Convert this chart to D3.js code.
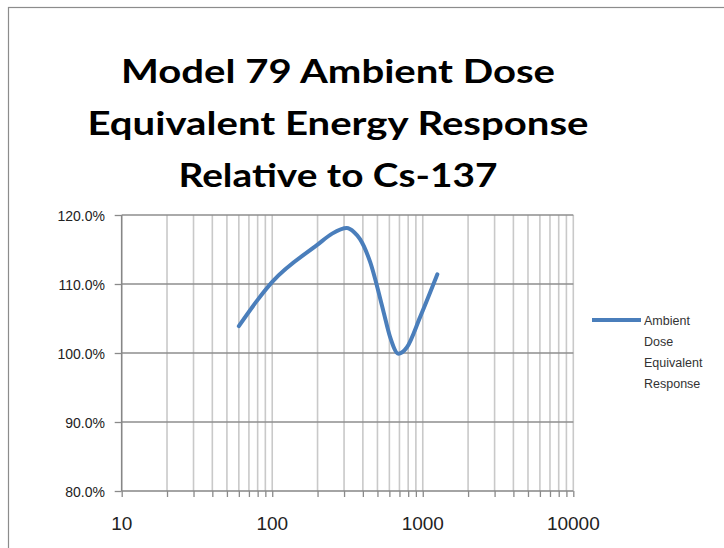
<!DOCTYPE html>
<html>
<head>
<meta charset="utf-8">
<script src="https://cdn.jsdelivr.net/npm/d3@7"></script>
<style>
  html, body { margin: 0; padding: 0; background: #fff; overflow: hidden; }
  svg { display: block; }
</style>
</head>
<body>
<svg id="chart" width="724" height="548"></svg>
<script>
// ---- data ----
const energies = [60, 80, 100, 200, 250, 313, 350, 383, 447, 547, 607, 689, 783, 960, 1250];       // keV
const response = [1.039, 1.077, 1.103, 1.157, 1.173, 1.181, 1.175, 1.165, 1.132, 1.061, 1.023, 0.999, 1.008, 1.052, 1.114];
const xTickValues = [10, 100, 1000, 10000];
const yTickValues = [0.8, 0.9, 1.0, 1.1, 1.2];
const titleLines = ["Model 79 Ambient Dose", "Equivalent Energy Response", "Relative to Cs-137"];
const seriesName = ["Ambient", "Dose", "Equivalent", "Response"];

const svg = d3.select("#chart");

// outer chart frame (extends past the viewport, like the reference)
svg.append("rect").attr("x", 8.5).attr("y", 7.5).attr("width", 760).attr("height", 600)
  .attr("fill", "#fff").attr("stroke", "#8c8c8c").attr("stroke-width", 1.2);

const x = d3.scaleLog().domain([10, 10000]).range([121.7, 573.3]);
const y = d3.scaleLinear().domain([0.8, 1.2]).range([491, 215]);

// minor + major vertical grid positions
const gridX = [];
for (let d = 10; d < 10000; d *= 10) for (let m = 1; m <= 9; m++) gridX.push(d * m);
gridX.push(10000);

const g = svg.append("g");

// vertical gridlines
g.selectAll(".vgrid").data(gridX.filter(v => v > 10)).join("line")
  .attr("x1", d => x(d)).attr("x2", d => x(d))
  .attr("y1", y(1.2)).attr("y2", y(0.8))
  .attr("stroke", "#c9c9c9").attr("stroke-width", 1.6);

// horizontal gridlines
g.selectAll(".hgrid").data(yTickValues.filter(v => v > 0.8)).join("line")
  .attr("x1", x(10)).attr("x2", x(10000))
  .attr("y1", d => y(d)).attr("y2", d => y(d))
  .attr("stroke", "#8e8e8e").attr("stroke-width", 1.4);

// x axis
const xAxis = d3.axisBottom(x).tickValues(gridX).tickSize(6).tickFormat("");
const gx = g.append("g").attr("transform", `translate(0,${y(0.8)})`).call(xAxis);
gx.select(".domain").attr("stroke", "#868686").attr("stroke-width", 1.6).attr("d", `M${x(10)},0H${x(10000)}`);
gx.selectAll(".tick line").attr("stroke", "#8a8a8a").attr("stroke-width", 1.3);

g.selectAll(".xlab").data(xTickValues).join("text")
  .attr("x", d => x(d)).attr("y", 530)
  .attr("text-anchor", "middle")
  .attr("font-family", "Liberation Sans, Arial, sans-serif")
  .attr("font-size", 19).attr("fill", "#222")
  .text(d => d3.format("d")(d));

// y axis
const yAxis = d3.axisLeft(y).tickValues(yTickValues).tickSize(7).tickFormat("");
const gy = g.append("g").attr("transform", `translate(${x(10)},0)`).call(yAxis);
gy.select(".domain").attr("stroke", "#868686").attr("stroke-width", 1.6).attr("d", `M0,${y(1.2)}V${y(0.8)}`);
gy.selectAll(".tick line").attr("stroke", "#8a8a8a").attr("stroke-width", 1.3);

g.selectAll(".ylab").data(yTickValues).join("text")
  .attr("x", 105).attr("y", d => y(d) + 5.5)
  .attr("text-anchor", "end")
  .attr("font-family", "Liberation Sans, Arial, sans-serif")
  .attr("font-size", 14).attr("fill", "#222")
  .text(d => d3.format(".1%")(d));

// series line
const pts = energies.map((e, i) => [e, response[i]]);
const line = d3.line().x(d => x(d[0])).y(d => y(d[1])).curve(d3.curveMonotoneX);
g.append("path").datum(pts).attr("d", line)
  .attr("fill", "none").attr("stroke", "#4a7ebb").attr("stroke-width", 4)
  .attr("stroke-linecap", "round").attr("stroke-linejoin", "round");

// title
const titleY = [83, 135, 187];
const titleW = [434, 501, 319];
svg.selectAll(".title").data(titleLines).join("text")
  .attr("x", 338).attr("y", (d, i) => titleY[i])
  .attr("text-anchor", "middle")
  .attr("font-family", "Lato, 'Open Sans', sans-serif")
  .attr("font-weight", "bold").attr("font-size", 32).attr("fill", "#000")
  .attr("textLength", (d, i) => titleW[i]).attr("lengthAdjust", "spacingAndGlyphs")
  .text(d => d);

// legend
svg.append("line").attr("x1", 592).attr("x2", 641).attr("y1", 320).attr("y2", 320)
  .attr("stroke", "#4a7ebb").attr("stroke-width", 4);
svg.selectAll(".leg").data(seriesName).join("text")
  .attr("x", 644).attr("y", (d, i) => 324.5 + i * 21)
  .attr("font-family", "Liberation Sans, Arial, sans-serif")
  .attr("font-size", 12.5).attr("fill", "#333")
  .text(d => d);
</script>
</body>
</html>
